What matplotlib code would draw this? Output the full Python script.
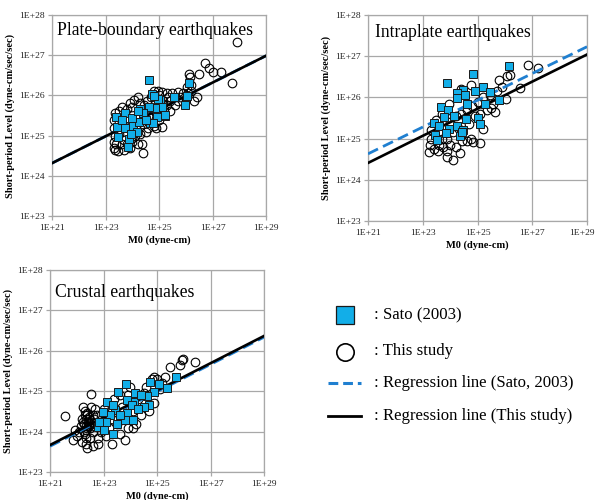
import numpy as np
import matplotlib
matplotlib.use("Agg")
import matplotlib.pyplot as plt
from matplotlib.lines import Line2D
from matplotlib.transforms import ScaledTranslation

plt.rcParams["font.family"] = ["Liberation Serif", "DejaVu Serif"]

# ---- data (log10 of M0 [dyne-cm] and short-period level A [dyne-cm/s^2]) ----
# Plate-boundary earthquakes
pb_sato_logm0 = [24.64, 26.13, 26.06, 25.98, 25.56, 25.24, 24.73, 25.04, 25.10, 24.85, 24.64, 24.91,
                 24.66, 24.39, 24.29, 23.73, 23.39, 23.42, 23.73, 24.04, 24.26, 23.48, 23.89, 24.17,
                 23.83, 24.41, 24.97, 24.81, 24.79, 25.22, 23.60, 24.00, 24.50, 23.95, 24.20]
pb_sato_loga = [26.38, 26.30, 25.99, 25.76, 25.95, 25.50, 26.03, 25.89, 25.70, 25.68, 25.70, 25.47,
                25.31, 25.57, 25.65, 25.57, 25.47, 25.21, 25.18, 25.24, 25.35, 24.96, 24.91, 25.10,
                24.72, 25.55, 25.90, 25.99, 25.31, 25.51, 25.40, 25.45, 25.40, 25.05, 25.62]
pb_this_logm0 = [27.90, 27.74, 26.72, 26.88, 27.03, 27.31, 26.51, 26.13, 26.15, 26.41, 26.20, 25.90,
                 25.70, 25.50, 25.30, 25.10, 24.95, 24.80, 24.07, 24.41, 24.38, 23.36, 23.30, 23.45,
                 23.70, 23.90, 24.20, 24.00, 25.10, 24.90, 23.30, 23.35, 23.30, 23.30, 23.35, 23.50,
                 23.60, 23.80, 24.00, 24.30, 24.55, 24.70, 25.00, 25.40, 25.70, 25.80, 26.00, 26.30,
                 26.10, 24.60, 24.40, 24.20, 23.60, 23.50, 23.70, 24.10, 24.30, 24.50, 24.80, 25.00,
                 25.20, 25.40, 25.60, 23.40, 23.60, 23.80, 24.00, 24.60, 24.90, 25.15, 25.30, 24.45,
                 23.90, 24.20, 24.95, 23.50, 23.75, 24.70, 25.35, 26.05, 26.20]
pb_this_loga = [27.34, 26.32, 26.81, 26.67, 26.57, 26.59, 26.53, 26.53, 26.45, 25.97, 26.10, 26.05,
                26.08, 26.05, 26.05, 26.08, 26.12, 26.10, 25.89, 24.57, 24.79, 24.64, 24.70, 24.62,
                24.65, 24.68, 24.80, 24.85, 25.22, 25.20, 24.85, 25.00, 25.20, 25.40, 25.55, 25.60,
                25.70, 25.65, 25.72, 25.80, 25.85, 25.95, 26.00, 25.85, 25.85, 25.95, 25.90, 25.85,
                26.05, 25.50, 25.30, 25.45, 25.30, 25.05, 24.90, 25.00, 25.05, 25.10, 25.25, 25.40,
                25.65, 25.60, 25.75, 24.78, 24.80, 24.78, 24.95, 25.20, 25.60, 25.85, 25.75, 25.75,
                25.80, 25.95, 25.75, 25.35, 25.45, 25.45, 25.95, 26.20, 26.25]

# Intraplate earthquakes
ip_sato_logm0 = [26.16, 24.85, 23.90, 25.21, 24.48, 24.91, 25.46, 24.26, 24.26, 24.61, 25.29, 25.80,
                 23.65, 23.93, 23.78, 24.14, 24.58, 25.03, 25.09, 23.41, 23.61, 23.97, 24.26, 24.48,
                 23.45, 23.85, 23.53, 24.36, 24.45, 24.55]
ip_sato_loga = [26.76, 26.58, 26.36, 26.26, 26.18, 26.16, 26.14, 26.10, 25.98, 25.84, 25.84, 25.94,
                25.77, 25.69, 25.53, 25.55, 25.47, 25.49, 25.35, 25.38, 25.31, 25.23, 25.31, 25.21,
                25.09, 25.13, 24.97, 25.06, 25.15, 26.05]
ip_this_logm0 = [26.86, 27.22, 25.80, 26.09, 26.20, 26.55, 25.48, 25.21, 25.09, 24.85, 24.12, 24.36,
                 23.87, 23.24, 23.25, 23.30, 23.30, 23.40, 23.55, 23.60, 23.75, 23.90, 24.00, 24.20,
                 24.45, 24.60, 24.75, 23.70, 23.90, 24.10, 24.30, 24.00, 24.20, 24.40, 24.60, 24.80,
                 25.00, 25.20, 25.45, 25.70, 25.90, 23.50, 23.70, 23.95, 24.70, 24.90, 25.10, 25.35,
                 25.55, 26.05, 25.65, 24.40, 24.75]
ip_this_loga = [26.79, 26.71, 26.42, 26.52, 26.55, 26.24, 25.74, 25.23, 24.90, 24.92, 24.48, 24.64,
                24.56, 24.68, 24.85, 25.00, 25.20, 24.75, 24.70, 24.85, 24.80, 24.70, 24.85, 24.80,
                24.95, 24.95, 25.00, 25.00, 25.00, 25.15, 25.25, 25.40, 25.55, 25.60, 25.70, 25.80,
                25.90, 26.00, 26.05, 26.15, 26.25, 25.45, 25.60, 25.85, 25.35, 25.55, 25.60, 25.70,
                25.85, 25.95, 25.65, 26.20, 26.30]

# Crustal earthquakes
cr_sato_logm0 = [25.70, 25.36, 25.09, 24.74, 24.89, 24.61, 24.71, 24.18, 24.14, 23.84, 23.55, 23.87,
                 24.05, 23.89, 24.09, 23.43, 23.12, 23.34, 23.24, 22.99, 23.09, 23.49, 22.81, 23.37,
                 23.80, 24.40, 24.50, 23.60, 22.85, 23.00, 24.30]
cr_sato_loga = [25.34, 25.09, 25.19, 25.24, 24.99, 24.87, 24.66, 24.95, 24.74, 25.19, 24.99, 24.78,
                24.66, 24.45, 24.29, 24.53, 24.74, 24.66, 24.41, 24.49, 24.25, 24.19, 24.12, 23.93,
                24.29, 24.90, 24.60, 24.40, 24.25, 24.05, 24.55]
cr_this_logm0 = [21.56, 21.85, 22.52, 25.92, 25.98, 26.42, 25.49, 25.85, 22.18, 22.35, 22.10, 22.20,
                 22.30, 22.40, 22.45, 22.30, 22.50, 22.60, 22.65, 22.70, 22.55, 22.80, 22.90, 22.95,
                 22.40, 22.60, 22.80, 23.10, 23.20, 23.30, 23.40, 23.60, 23.50, 23.70, 23.90, 24.00,
                 24.10, 24.30, 24.50, 24.60, 24.80, 24.90, 25.00, 25.10, 24.90, 24.70, 24.40, 24.20,
                 23.90, 23.60, 23.30, 23.80, 24.10, 25.20, 25.30, 22.25, 22.15, 22.35, 21.95,
                 22.28, 22.33, 22.38, 22.42, 22.47, 22.36, 22.31, 22.44, 22.49, 22.26, 22.52,
                 22.40, 22.34, 22.46, 22.22, 22.57, 22.02, 22.62, 23.00, 22.75]
cr_this_loga = [24.39, 23.79, 24.93, 25.76, 25.80, 25.73, 25.59, 25.65, 23.75, 23.70, 24.00, 24.30,
                24.50, 24.40, 24.15, 23.95, 23.85, 24.00, 24.30, 24.55, 24.60, 23.85, 24.00, 24.30,
                23.60, 23.65, 23.70, 23.90, 24.10, 24.30, 24.80, 24.90, 24.20, 24.60, 24.90, 25.10,
                24.50, 24.80, 24.95, 25.10, 25.30, 25.35, 25.30, 25.05, 24.70, 24.50, 24.40, 24.20,
                24.10, 23.95, 23.70, 23.80, 24.10, 25.20, 25.35, 24.60, 24.15, 23.85, 24.05,
                24.20, 24.30, 24.10, 24.25, 24.35, 24.05, 24.40, 24.20, 24.10, 24.00, 24.25,
                24.45, 24.15, 24.30, 24.25, 24.15, 23.90, 24.40, 24.55, 24.40]

# Regression lines: log10 A = a + b * log10 M0   (Sato 2003, this study)
pb_reg_sato = (17.30, 0.334)
pb_reg_this = (17.30, 0.334)
ip_reg_sato = (17.805, 0.325)
ip_reg_this = (17.50, 0.329)
cr_reg_sato = (16.55, 0.3375)
cr_reg_this = (16.58, 0.3375)

titles = ["Plate-boundary earthquakes", "Intraplate earthquakes", "Crustal earthquakes"]
x_tick_exp = [21, 23, 25, 27, 29]
y_tick_exp = [23, 24, 25, 26, 27, 28]

SQ_FACE = "#12aee8"
REG_BLUE = "#1f7fd0"
GRID = "#a8a8a8"

fig = plt.figure(figsize=(5.95, 5.00), dpi=100)

panels = [
    dict(rect=[52 / 595, 1 - 216 / 500, 214 / 595, 201 / 500],
         sato=(pb_sato_logm0, pb_sato_loga), this=(pb_this_logm0, pb_this_loga),
         reg=(pb_reg_sato, pb_reg_this), title=titles[0], title_xy=(0.023, 0.900)),
    dict(rect=[368 / 595, 1 - 221 / 500, 219 / 595, 206 / 500],
         sato=(ip_sato_logm0, ip_sato_loga), this=(ip_this_logm0, ip_this_loga),
         reg=(ip_reg_sato, ip_reg_this), title=titles[1], title_xy=(0.032, 0.893)),
    dict(rect=[50 / 595, 1 - 472 / 500, 214 / 595, 202 / 500],
         sato=(cr_sato_logm0, cr_sato_loga), this=(cr_this_logm0, cr_this_loga),
         reg=(cr_reg_sato, cr_reg_this), title=titles[2], title_xy=(0.023, 0.868)),
]

for p in panels:
    ax = fig.add_axes(p["rect"])
    ax.set_xscale("log")
    ax.set_yscale("log")
    ax.set_xlim(1e21, 1e29)
    ax.set_ylim(1e23, 1e28)
    ax.set_xticks([10.0 ** e for e in x_tick_exp])
    ax.set_xticklabels(["1E+%d" % e for e in x_tick_exp])
    ax.set_yticks([10.0 ** e for e in y_tick_exp])
    ax.set_yticklabels(["1E+%d" % e for e in y_tick_exp])
    ax.minorticks_off()
    ax.tick_params(labelsize=6.8, length=3, width=0.9, color=GRID,
                   labelcolor="#222222", direction="out")
    ax.tick_params(axis="x", pad=3)
    ax.tick_params(axis="y", pad=2)
    ax.grid(True, color=GRID, lw=0.9)
    ax.set_axisbelow(True)
    for s in ax.spines.values():
        s.set_color(GRID)
        s.set_linewidth(0.9)

    tx, ty = p["this"]
    ax.plot(10.0 ** np.array(tx), 10.0 ** np.array(ty), "o", ms=6.2, mfc="none",
            mec="black", mew=0.8, zorder=3, clip_on=False)

    xs = np.array([21.0, 29.0])
    (a1, b1), (a2, b2) = p["reg"]
    ax.plot(10.0 ** xs, 10.0 ** (a1 + b1 * xs), "--", color=REG_BLUE, lw=2.0,
            dashes=(4, 2), zorder=4)
    ax.plot(10.0 ** xs, 10.0 ** (a2 + b2 * xs), "-", color="black", lw=1.9, zorder=4)

    sx, sy = p["sato"]
    ax.plot(10.0 ** np.array(sx), 10.0 ** np.array(sy), "s", ms=6.0, mfc=SQ_FACE,
            mec="#1a1a1a", mew=0.7, zorder=5)

    ax.text(p["title_xy"][0], p["title_xy"][1], p["title"], transform=ax.transAxes,
            ha="left", va="baseline", fontsize=12.7, zorder=6)

    ax.set_xlabel("M0 (dyne-cm)", fontsize=7.5, fontweight="bold", labelpad=2)
    ax.set_ylabel("Short-period Level (dyne-cm/sec/sec)", fontsize=7.5,
                  fontweight="bold", labelpad=3)

    # keep the right-most x tick label inside the figure
    last = ax.get_xticklabels()[-1]
    if ax.get_position().x1 > 0.95:
        last.set_transform(last.get_transform() +
                           ScaledTranslation(-5 / 100, 0, fig.dpi_scale_trans))

# ---- legend block ----
def fx(px):
    return px / 595.0

def fy(py):
    return 1 - py / 500.0

fig.add_artist(Line2D([fx(345)], [fy(315)], marker="s", ms=12.5, mfc=SQ_FACE,
                      mec="#1a1a1a", mew=0.9, ls="none"))
fig.add_artist(Line2D([fx(345)], [fy(352)], marker="o", ms=12.5, mfc="none",
                      mec="black", mew=1.2, ls="none"))
fig.add_artist(Line2D([fx(328), fx(361)], [fy(383), fy(383)], color=REG_BLUE, lw=2.2,
                      ls="--", dashes=(3.2, 1.6)))
fig.add_artist(Line2D([fx(328), fx(361)], [fy(416), fy(416)], color="black", lw=2.0))

legend_labels = [": Sato (2003)", ": This study", ": Regression line (Sato, 2003)",
                 ": Regression line (This study)"]
for lab, py in zip(legend_labels, [315, 351, 383, 416]):
    fig.text(fx(374), fy(py), lab, ha="left", va="center", fontsize=12.1)

fig.savefig("out.png", dpi=100)
